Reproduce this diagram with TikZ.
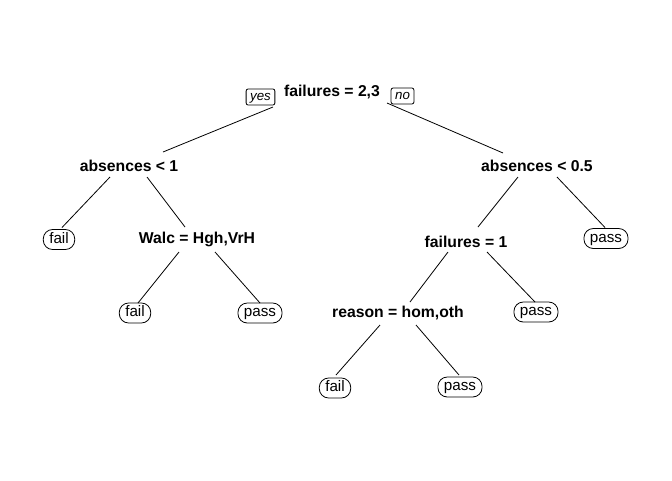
\documentclass[tikz,border=0pt]{standalone}
\usepackage{fontspec}
\setmainfont{Liberation Sans}
\usetikzlibrary{calc}
\begin{document}
\begin{tikzpicture}[x=0.75pt,y=-0.75pt,
  split/.style={font=\fontsize{11.8}{14}\selectfont\bfseries, inner sep=0pt},
  leaf/.style={draw, line width=0.6pt, rounded corners=7pt, minimum height=15pt, inner xsep=4.5pt, inner ysep=0pt, text height=0.74em, text depth=0.2em, font=\fontsize{11.4}{13}\selectfont},
  yesno/.style={draw, line width=0.6pt, rounded corners=1.5pt, minimum height=12pt, inner xsep=3pt, inner ysep=0pt, text height=0.72em, text depth=0.2em, font=\fontsize{10}{12}\selectfont\itshape},
  edge/.style={line width=0.6pt}]
\useasboundingbox[fill=white] (0,0) rectangle (672,480);
\node[split] (root) at (332,92) {failures = 2,3};
\node[yesno] (yes) at (260.5,97) {yes};
\node[yesno] (no) at (402.5,96) {no};
\node[split] (a1) at (129,166) {absences < 1};
\node[leaf] (f1) at (59,239.5) {fail};
\node[split] (walc) at (197,239) {Walc = Hgh,VrH};
\node[leaf] (f2) at (135,313) {fail};
\node[leaf] (p2) at (260,313) {pass};
\node[split] (a2) at (537,166) {absences < 0.5};
\node[leaf] (p1) at (606,238.5) {pass};
\node[split] (fl1) at (466,242) {failures = 1};
\node[leaf] (p3) at (536,312) {pass};
\node[split] (reas) at (398,313) {reason = hom,oth};
\node[leaf] (f3) at (335,388) {fail};
\node[leaf] (p4) at (460,387) {pass};
\draw[edge] ($(root)+(-59,15)$) -- ($(a1)+(34,-14)$);
\draw[edge] ($(root)+(55,11)$) -- ($(a2)+(-34,-13)$);
\draw[edge] ($(a1)+(-19,11)$) -- ($(f1)+(3,-12)$);
\draw[edge] ($(a1)+(18,11)$) -- ($(walc)+(-12,-12)$);
\draw[edge] ($(walc)+(-18,13)$) -- ($(f2)+(3,-10)$);
\draw[edge] ($(walc)+(18,13)$) -- ($(p2)+(0,-10)$);
\draw[edge] ($(a2)+(-19,11)$) -- ($(fl1)+(12,-15)$);
\draw[edge] ($(a2)+(20,11)$) -- ($(p1)+(-1,-11)$);
\draw[edge] ($(fl1)+(-18,10)$) -- ($(reas)+(12,-11)$);
\draw[edge] ($(fl1)+(21,10)$) -- ($(p3)+(-1,-10)$);
\draw[edge] ($(reas)+(-18,12)$) -- ($(f3)+(1,-13)$);
\draw[edge] ($(reas)+(18,12)$) -- ($(p4)+(-1,-12)$);
\end{tikzpicture}
\end{document}
